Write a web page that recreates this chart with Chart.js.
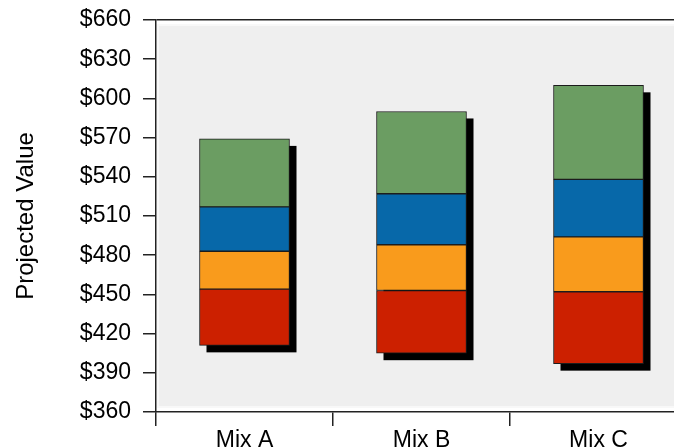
<!DOCTYPE html>
<html>
<head>
<meta charset="utf-8">
<script src="https://cdn.jsdelivr.net/npm/chart.js@4.4.1/dist/chart.umd.min.js"></script>
<style>
  html, body { margin: 0; padding: 0; background: #ffffff; overflow: hidden; }
  #wrap { position: relative; width: 700px; height: 460px; }
  canvas { display: block; }
</style>
</head>
<body>
<div id="wrap"><canvas id="chart" width="700" height="460"></canvas></div>
<script>
// Projected value per mix: a starting level plus four stacked components
const categories = ['Mix A', 'Mix B', 'Mix C'];
const baseValues = [411, 405, 397];
const redValues = [43, 48, 55];
const orangeValues = [29, 35, 42];
const blueValues = [34, 39, 44];
const greenValues = [52, 63, 72];
const yTicks = [360, 390, 420, 450, 480, 510, 540, 570, 600, 630, 660];

const segmentColors = ['#cc2000', '#f99b1c', '#0768a9', '#6b9d62'];
const segments = [redValues, orangeValues, blueValues, greenValues];

// Turn the stacked components into floating [low, high] ranges
const running = baseValues.slice();
const datasets = segments.map((vals, k) => {
  const data = vals.map((v, i) => {
    const lo = running[i];
    running[i] = lo + v;
    return [lo, running[i]];
  });
  return {
    data,
    backgroundColor: segmentColors[k],
    borderColor: '#1c1c1c',
    borderWidth: 1,
    borderSkipped: false,
    barThickness: 90
  };
});

// Light plot panel behind the bars
const panelPlugin = {
  id: 'panel',
  beforeDraw(chart) {
    const { ctx, chartArea: a } = chart;
    ctx.save();
    ctx.fillStyle = '#f8f8f8';
    ctx.fillRect(a.left + 1, a.top + 4, a.right - a.left, a.bottom - a.top - 8);
    ctx.fillStyle = '#efefef';
    ctx.fillRect(a.left + 3, a.top + 6, a.right - a.left, a.bottom - a.top - 12);
    ctx.restore();
  }
};

// Solid drop shadow behind each whole column
const shadowPlugin = {
  id: 'columnShadow',
  beforeDatasetsDraw(chart) {
    const { ctx } = chart;
    const bottomMeta = chart.getDatasetMeta(0);
    const topMeta = chart.getDatasetMeta(chart.data.datasets.length - 1);
    ctx.save();
    ctx.fillStyle = '#000000';
    bottomMeta.data.forEach((low, i) => {
      const high = topMeta.data[i];
      const w = low.width;
      ctx.fillRect(low.x - w / 2 + 7, high.y + 7, w, low.base - high.y);
    });
    ctx.restore();
  }
};

const font = { family: '"Liberation Sans", Arial, sans-serif', size: 23 };
const titleFont = { family: '"Liberation Sans", Arial, sans-serif', size: 24 };

new Chart(document.getElementById('chart'), {
  type: 'bar',
  data: { labels: categories, datasets },
  options: {
    responsive: false,
    animation: false,
    devicePixelRatio: 1,
    layout: { padding: { top: 20, right: 13, left: 0, bottom: 0 } },
    plugins: { legend: { display: false }, tooltip: { enabled: false } },
    scales: {
      x: {
        stacked: true,
        offset: true,
        grid: {
          offset: true,
          drawOnChartArea: false,
          tickLength: 14,
          tickColor: '#222',
          lineWidth: 1.5
        },
        border: { color: '#222', width: 1.5 },
        ticks: { color: '#000', font, padding: 1, maxRotation: 0, autoSkip: false },
        afterFit(scale) {
          scale.height = 48;
          scale.paddingLeft = 0;
          scale.paddingRight = 0;
        }
      },
      y: {
        min: 360,
        max: 660,
        afterBuildTicks(scale) { scale.ticks = yTicks.map(v => ({ value: v })); },
        grid: {
          drawOnChartArea: true,
          color: ctx => (ctx.tick && ctx.tick.value === 660 ? '#222' : 'rgba(0,0,0,0)'),
          tickColor: '#222',
          tickLength: 13,
          lineWidth: 1.5
        },
        border: { color: '#222', width: 1.5 },
        ticks: {
          color: '#000',
          font,
          padding: 12,
          autoSkip: false,
          callback: v => '$' + v
        },
        title: {
          display: true,
          text: 'Projected Value',
          color: '#000',
          font: titleFont,
          padding: { top: 12, bottom: 0 }
        },
        afterFit(scale) {
          scale.width = 156;
          scale.paddingTop = 0;
          scale.paddingBottom = 0;
        }
      }
    }
  },
  plugins: [panelPlugin, shadowPlugin]
});
</script>
</body>
</html>
